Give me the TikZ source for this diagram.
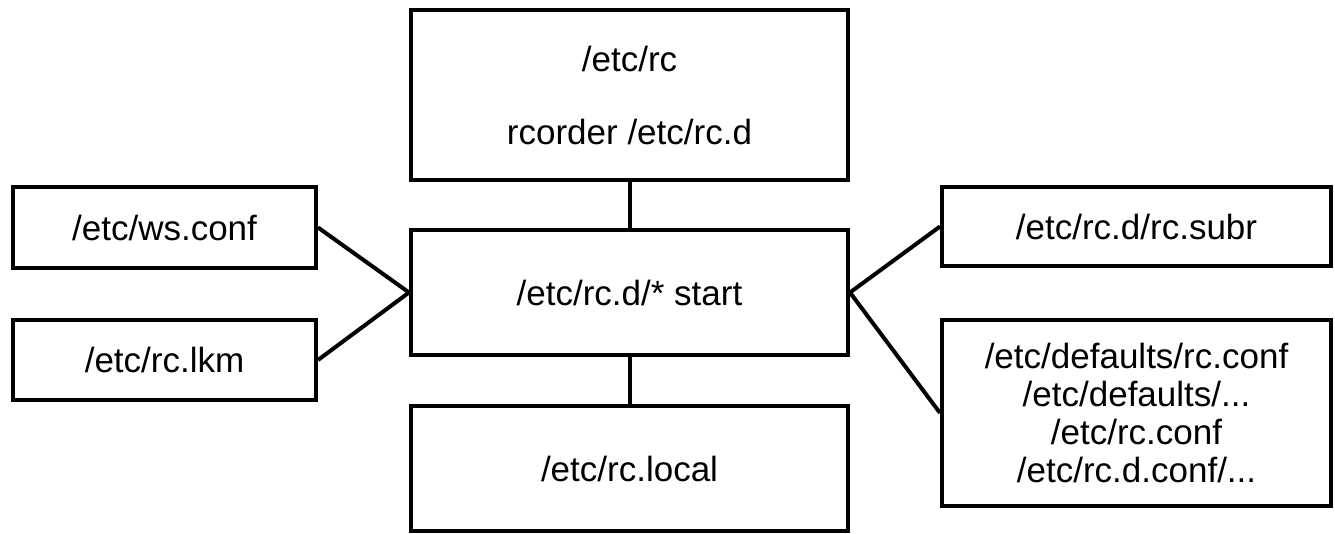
\documentclass[tikz,border=0pt]{standalone}
\usepackage{fontspec}
\setmainfont{Liberation Sans}
\tikzset{box/.style={draw, line width=2pt, inner sep=0pt, align=center, font=\fontsize{17.5}{19}\selectfont},
link/.style={line width=2pt}}

\begin{document}
\begin{tikzpicture}[x=0.5pt,y=-0.5pt]
\useasboundingbox (0,0) rectangle (1335,534);
% middle column
\node[box, minimum width=218.5pt, minimum height=85pt] (rc) at (629.5,95) {/etc/rc\\[17.5pt]rcorder /etc/rc.d};
\node[box, minimum width=218.5pt, minimum height=62.5pt] (start) at (629.5,292.5) {/etc/rc.d/* start};
\node[box, minimum width=218.5pt, minimum height=62.5pt] (local) at (629.5,468.5) {/etc/rc.local};
% left column
\node[box, minimum width=151.5pt, minimum height=40.5pt] (ws) at (164.5,227.5) {/etc/ws.conf};
\node[box, minimum width=151.5pt, minimum height=40pt] (lkm) at (164.5,360) {/etc/rc.lkm};
% right column
\node[box, minimum width=194.5pt, minimum height=39.5pt] (subr) at (1136.5,226.5) {/etc/rc.d/rc.subr};
\node[box, minimum width=194.5pt, minimum height=93pt] (conf) at (1136.5,413) {/etc/defaults/rc.conf\\/etc/defaults/...\\/etc/rc.conf\\/etc/rc.d.conf/...};
\draw[link] (rc) -- (start);
\draw[link] (start) -- (local);
\draw[link] (ws.east) -- (start.west);
\draw[link] (lkm.east) -- (start.west);
\draw[link] (start.east) -- (subr.west);
\draw[link] (start.east) -- (conf.west);
\end{tikzpicture}
\end{document}
